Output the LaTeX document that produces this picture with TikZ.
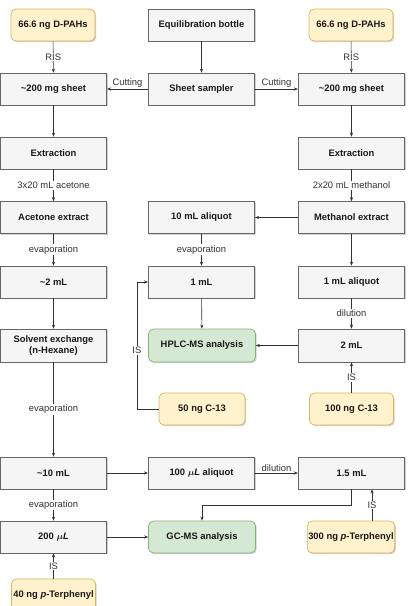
\documentclass[tikz,border=0pt]{standalone}
\usepackage{amsmath}
\usepackage{fontspec}
\setmainfont{Liberation Sans}
\usetikzlibrary{arrows.meta,calc,shadows}
\definecolor{gfill}{HTML}{F5F5F5}
\definecolor{gline}{HTML}{666666}
\definecolor{yfill}{HTML}{FFF2CC}
\definecolor{yline}{HTML}{D6B656}
\definecolor{grfill}{HTML}{D5E8D4}
\definecolor{grline}{HTML}{82B366}
\definecolor{cline}{HTML}{333333}
\tikzset{
  base/.style={minimum height=32pt, inner sep=1pt, align=center,
    font=\fontsize{9.4}{11}\selectfont\bfseries, text=black!90, line width=0.7pt,
    drop shadow={shadow xshift=1.2pt, shadow yshift=-1.2pt, opacity=0.18, fill=black}},
  graybox/.style={base, fill=gfill, draw=gline, minimum width=106.5pt},
  yelbox/.style={base, fill=yfill, draw=yline, rounded corners=5pt, minimum width=84pt},
  grnbox/.style={base, fill=grfill, draw=grline, rounded corners=5pt, minimum width=107pt},
  arr/.style={draw=cline, line width=0.6pt, -{Stealth[length=4pt,width=3.2pt]}},
  lbl/.style={font=\fontsize{9.4}{11}\selectfont, text=black!80, fill=white, inner sep=1pt},
  lblabove/.style={font=\fontsize{9.4}{11}\selectfont, text=black!80, inner sep=1pt, above}
}
\begin{document}
\begin{tikzpicture}[x=1pt,y=-1pt]
\useasboundingbox (0,0) rectangle (408,606);
% left column
\node[yelbox] (dpahL) at (53,25) {66.6 ng D-PAHs};
\node[graybox] (sheetL) at (53.5,89) {\textasciitilde200 mg sheet};
\node[graybox] (extrL) at (53.5,153) {Extraction};
\node[graybox] (acet) at (53.5,217.5) {Acetone extract};
\node[graybox] (twomL) at (53.5,282) {\textasciitilde2 mL};
\node[graybox, minimum height=33pt] (solv) at (53.5,345.5) {Solvent exchange\\(n-Hexane)};
\node[graybox] (tenmL) at (53.5,473) {\textasciitilde10 mL};
\node[graybox] (twohun) at (53.5,537) {200 $\boldsymbol{\mu}$\textit{L}};
\node[yelbox, minimum height=33pt] (tp40) at (53.5,595.5) {40 ng \textit{p}-Terphenyl};
% center column
\node[graybox] (equi) at (201.5,25) {Equilibration bottle};
\node[graybox] (samp) at (201.5,89) {Sheet sampler};
\node[graybox] (tenal) at (201.5,217.5) {10 mL aliquot};
\node[graybox] (onemL) at (201.5,282) {1 mL};
\node[grnbox, minimum height=33pt] (hplc) at (202,345.5) {HPLC-MS analysis};
\node[yelbox, minimum width=86pt] (c13a) at (202,409) {50 ng C-13};
\node[graybox] (hunal) at (201.5,473) {100 $\boldsymbol{\mu}$\textit{L} aliquot};
\node[grnbox] (gcms) at (202,537) {GC-MS analysis};
% right column
\node[yelbox] (dpahR) at (351,25) {66.6 ng D-PAHs};
\node[graybox] (sheetR) at (351.5,89) {\textasciitilde200 mg sheet};
\node[graybox] (extrR) at (351.5,153) {Extraction};
\node[graybox] (meth) at (351.5,217.5) {Methanol extract};
\node[graybox] (onealq) at (351.5,282) {1 mL aliquot};
\node[graybox, minimum height=33pt] (twomLR) at (351.5,345.5) {2 mL};
\node[yelbox] (c13b) at (351.5,409) {100 ng C-13};
\node[graybox] (onefive) at (351.5,473) {1.5 mL};
\node[yelbox] (tp300) at (351,537) {300 ng \textit{p}-Terphenyl};
% connectors
\draw[arr] (dpahL) -- node[lbl]{RIS} (sheetL);
\draw[arr] (dpahR) -- node[lbl]{RIS} (sheetR);
\draw[arr] (equi) -- (samp);
\draw[arr] (samp) -- node[lblabove]{Cutting} (sheetL);
\draw[arr] (samp) -- node[lblabove]{Cutting} (sheetR);
\draw[arr] (sheetL) -- (extrL);
\draw[arr] (sheetR) -- (extrR);
\draw[arr] (extrL) -- node[lbl]{3x20 mL acetone} (acet);
\draw[arr] (extrR) -- node[lbl]{2x20 mL methanol} (meth);
\draw[arr] (acet) -- node[lbl]{evaporation} (twomL);
\draw[arr] (twomL) -- (solv);
\draw[arr] (solv) -- node[lbl]{evaporation} (tenmL);
\draw[arr] (tenmL) -- node[lbl]{evaporation} (twohun);
\draw[arr] (tp40) -- node[lbl]{IS} (twohun);
\draw[arr] (meth) -- (tenal);
\draw[arr] (tenal) -- node[lbl]{evaporation} (onemL);
\draw[arr] (onemL) -- (hplc);
\draw[arr] (c13a.west) -| ($(onemL.west)+(-11,0)$) node[lbl, pos=0.73]{IS} -- (onemL.west);
\draw[arr] (meth) -- (onealq);
\draw[arr] (onealq) -- node[lbl]{dilution} (twomLR);
\draw[arr] (twomLR) -- (hplc);
\draw[arr] (c13b) -- node[lbl]{IS} (twomLR);
\draw[arr] (tenmL) -- (hunal);
\draw[arr] (hunal) -- node[lblabove]{dilution} (onefive);
\draw[arr] (twohun) -- (gcms);
\draw[arr] (onefive.south) -- ++(0,16) -| (gcms.north);
\draw[arr] ([xshift=21pt]tp300.north) -- node[lbl]{IS} ([xshift=20.5pt]onefive.south);
\end{tikzpicture}
\end{document}
